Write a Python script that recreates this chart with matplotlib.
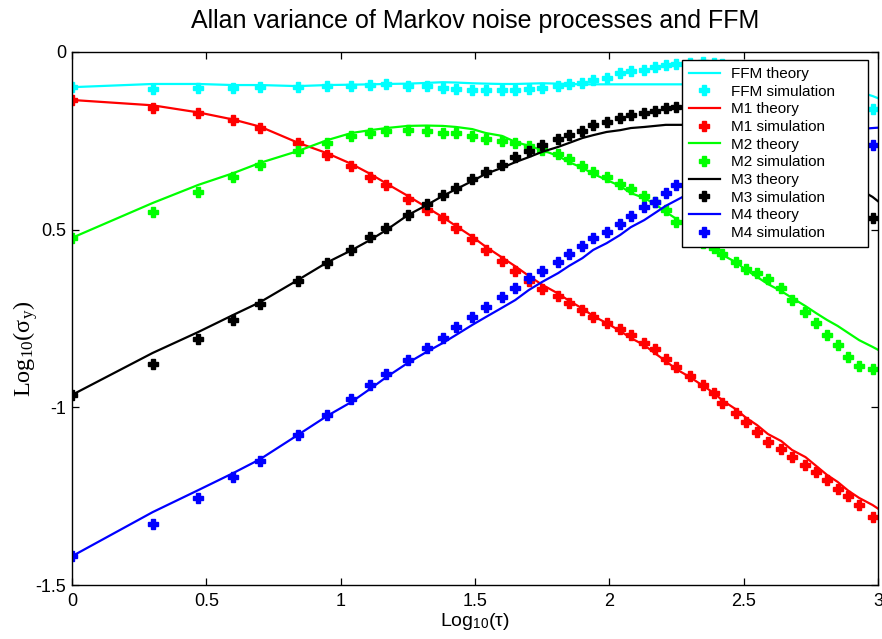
import matplotlib
matplotlib.use('Agg')
import matplotlib.pyplot as plt

plt.rcParams['font.family'] = ['Liberation Sans', 'DejaVu Sans']
plt.rcParams['mathtext.fontset'] = 'custom'
plt.rcParams['mathtext.rm'] = 'Liberation Serif'
plt.rcParams['mathtext.sf'] = 'Liberation Sans'
plt.rcParams['mathtext.it'] = 'Liberation Serif:italic'

# log10(tau) of the simulated points
x_sim = [0, 0.30, 0.47, 0.60, 0.70, 0.84, 0.95, 1.04, 1.11, 1.17,
         1.25, 1.32, 1.38, 1.43, 1.49, 1.54, 1.60, 1.65, 1.70, 1.75,
         1.81, 1.85, 1.90, 1.94, 1.99, 2.04, 2.08, 2.13, 2.17, 2.21,
         2.25, 2.30, 2.35, 2.39, 2.42, 2.47, 2.51, 2.55, 2.59, 2.64,
         2.68, 2.73, 2.77, 2.81, 2.85, 2.89, 2.93, 2.98]
# theory is evaluated on the same taus plus tau = 1000
x_theory = x_sim + [3.0]

ffm_theory = [-0.099, -0.090, -0.090, -0.093, -0.093, -0.096, -0.093, -0.092, -0.091, -0.090,
              -0.089, -0.087, -0.085, -0.086, -0.088, -0.089, -0.090, -0.090, -0.089, -0.088,
              -0.089, -0.090, -0.091, -0.091, -0.091, -0.091, -0.091, -0.091, -0.091, -0.091,
              -0.091, -0.091, -0.091, -0.091, -0.091, -0.091, -0.091, -0.091, -0.091, -0.091,
              -0.091, -0.092, -0.093, -0.095, -0.098, -0.103, -0.112, -0.124, -0.130]
ffm_sim = [-0.098, -0.105, -0.102, -0.102, -0.098, -0.099, -0.096, -0.096, -0.093, -0.091,
           -0.096, -0.096, -0.100, -0.103, -0.106, -0.107, -0.108, -0.108, -0.104, -0.100,
           -0.095, -0.090, -0.086, -0.079, -0.072, -0.060, -0.054, -0.052, -0.043, -0.037,
           -0.034, -0.030, -0.028, -0.030, -0.035, -0.042, -0.050, -0.058, -0.066, -0.075,
           -0.085, -0.095, -0.105, -0.115, -0.125, -0.135, -0.145, -0.160]

m1_theory = [-0.135, -0.150, -0.170, -0.190, -0.210, -0.255, -0.285, -0.315, -0.343, -0.370,
             -0.405, -0.437, -0.465, -0.490, -0.520, -0.548, -0.578, -0.603, -0.630, -0.655,
             -0.680, -0.700, -0.722, -0.743, -0.763, -0.785, -0.805, -0.825, -0.848, -0.870,
             -0.893, -0.915, -0.940, -0.960, -0.980, -1.005, -1.030, -1.050, -1.075, -1.095,
             -1.120, -1.140, -1.165, -1.190, -1.210, -1.235, -1.255, -1.275, -1.285]
m1_sim = [-0.135, -0.158, -0.172, -0.191, -0.214, -0.256, -0.290, -0.321, -0.352, -0.374,
          -0.414, -0.445, -0.467, -0.495, -0.526, -0.557, -0.588, -0.616, -0.645, -0.667,
          -0.687, -0.706, -0.726, -0.746, -0.763, -0.780, -0.797, -0.819, -0.836, -0.864,
          -0.887, -0.912, -0.937, -0.960, -0.988, -1.016, -1.041, -1.070, -1.098, -1.117,
          -1.140, -1.162, -1.182, -1.205, -1.230, -1.250, -1.275, -1.309]

m2_theory = [-0.523, -0.425, -0.374, -0.341, -0.312, -0.279, -0.248, -0.228, -0.220, -0.214,
             -0.208, -0.207, -0.208, -0.211, -0.217, -0.228, -0.236, -0.253, -0.264, -0.276,
             -0.293, -0.310, -0.326, -0.343, -0.360, -0.377, -0.397, -0.411, -0.428, -0.450,
             -0.470, -0.497, -0.525, -0.552, -0.571, -0.591, -0.614, -0.633, -0.653, -0.673,
             -0.692, -0.715, -0.735, -0.754, -0.771, -0.791, -0.811, -0.830, -0.838]
m2_sim = [-0.523, -0.450, -0.393, -0.351, -0.318, -0.278, -0.255, -0.236, -0.227, -0.222,
          -0.219, -0.222, -0.227, -0.229, -0.236, -0.245, -0.250, -0.255, -0.265, -0.276,
          -0.287, -0.301, -0.322, -0.337, -0.352, -0.371, -0.386, -0.405, -0.422, -0.445,
          -0.478, -0.518, -0.538, -0.552, -0.569, -0.591, -0.611, -0.622, -0.639, -0.664,
          -0.698, -0.732, -0.763, -0.797, -0.825, -0.858, -0.884, -0.892]

m3_theory = [-0.965, -0.847, -0.788, -0.740, -0.704, -0.642, -0.592, -0.558, -0.529, -0.501,
             -0.459, -0.431, -0.405, -0.386, -0.363, -0.343, -0.326, -0.310, -0.296, -0.281,
             -0.267, -0.256, -0.242, -0.234, -0.225, -0.220, -0.214, -0.211, -0.208, -0.205,
             -0.205, -0.205, -0.208, -0.211, -0.217, -0.222, -0.231, -0.242, -0.253, -0.267,
             -0.281, -0.298, -0.315, -0.332, -0.349, -0.366, -0.386, -0.408, -0.420]
m3_sim = [-0.965, -0.878, -0.808, -0.754, -0.709, -0.645, -0.594, -0.557, -0.521, -0.495,
          -0.459, -0.428, -0.402, -0.383, -0.357, -0.338, -0.318, -0.296, -0.279, -0.262,
          -0.245, -0.234, -0.222, -0.205, -0.197, -0.186, -0.177, -0.172, -0.166, -0.158,
          -0.155, -0.149, -0.146, -0.146, -0.149, -0.155, -0.163, -0.175, -0.191, -0.208,
          -0.228, -0.250, -0.276, -0.304, -0.338, -0.374, -0.417, -0.467]

m4_theory = [-1.419, -1.295, -1.233, -1.185, -1.146, -1.078, -1.024, -0.985, -0.948, -0.915,
             -0.875, -0.844, -0.819, -0.796, -0.768, -0.746, -0.720, -0.698, -0.670, -0.647,
             -0.622, -0.602, -0.580, -0.557, -0.538, -0.515, -0.493, -0.473, -0.453, -0.433,
             -0.417, -0.397, -0.377, -0.360, -0.346, -0.329, -0.312, -0.298, -0.284, -0.273,
             -0.262, -0.250, -0.242, -0.234, -0.228, -0.222, -0.217, -0.214, -0.213]
m4_sim = [-1.419, -1.328, -1.255, -1.196, -1.151, -1.078, -1.022, -0.977, -0.937, -0.906,
          -0.867, -0.833, -0.805, -0.774, -0.746, -0.718, -0.690, -0.664, -0.636, -0.616,
          -0.591, -0.568, -0.546, -0.524, -0.507, -0.484, -0.462, -0.436, -0.422, -0.397,
          -0.374, -0.360, -0.343, -0.329, -0.315, -0.304, -0.296, -0.287, -0.281, -0.276,
          -0.273, -0.270, -0.267, -0.265, -0.265, -0.262, -0.262, -0.262]

names = ['FFM', 'M1', 'M2', 'M3', 'M4']
colors = ['#00ffff', '#ff0000', '#00ff00', '#000000', '#0000ff']
theories = [ffm_theory, m1_theory, m2_theory, m3_theory, m4_theory]
sims = [ffm_sim, m1_sim, m2_sim, m3_sim, m4_sim]

xticks = [0, 0.5, 1, 1.5, 2, 2.5, 3]
xticklabels = ['0', '0.5', '1', '1.5', '2', '2.5', '3']
yticks = [-1.5, -1, -0.5, 0]
yticklabels = ['-1.5', '-1', '0.5', '0']

fig = plt.figure(figsize=(8.82, 6.39), dpi=100)
ax = fig.add_axes([72 / 882, 1 - 585 / 639, 806 / 882, 533 / 639])

for name, c, th, sm in zip(names, colors, theories, sims):
    ax.plot(x_theory, th, color=c, lw=1.6, label=name + ' theory')
    ax.plot(x_sim, sm, ls='none', marker='P', ms=7, color=c, mec=c,
            label=name + ' simulation')

ax.set_xlim(0, 3)
ax.set_ylim(-1.5, 0)
ax.set_xticks(xticks)
ax.set_xticklabels(xticklabels)
ax.set_yticks(yticks)
ax.set_yticklabels(yticklabels)
ax.tick_params(direction='in', top=True, right=True, length=5, width=0.9,
               labelsize=13)
ax.tick_params(axis='x', pad=6)
ax.tick_params(axis='y', pad=4)
for sp in ax.spines.values():
    sp.set_linewidth(1.0)

ax.set_title('Allan variance of Markov noise processes and FFM', fontsize=18, pad=17)
ax.set_xlabel(r'Log$_{\mathsf{10}}$(τ)', fontsize=14)
ax.xaxis.set_label_coords(0.5, -0.048)
ax.set_ylabel(r'Log$_{\mathrm{10}}$(σ$_{\mathrm{y}}$)', fontsize=17.5,
              family='Liberation Serif')
ax.yaxis.set_label_coords(-0.04, 0.443)

leg = ax.legend(loc='upper left', bbox_to_anchor=(0.757, 0.634, 0.2308, 0.351),
                mode='expand', fontsize=11, fancybox=False, edgecolor='black',
                framealpha=1, borderpad=0.45, labelspacing=0.24, handlelength=2.0,
                handletextpad=0.75, numpoints=1, borderaxespad=0)
leg.get_frame().set_linewidth(1.0)

fig.savefig('out.png', dpi=100)
